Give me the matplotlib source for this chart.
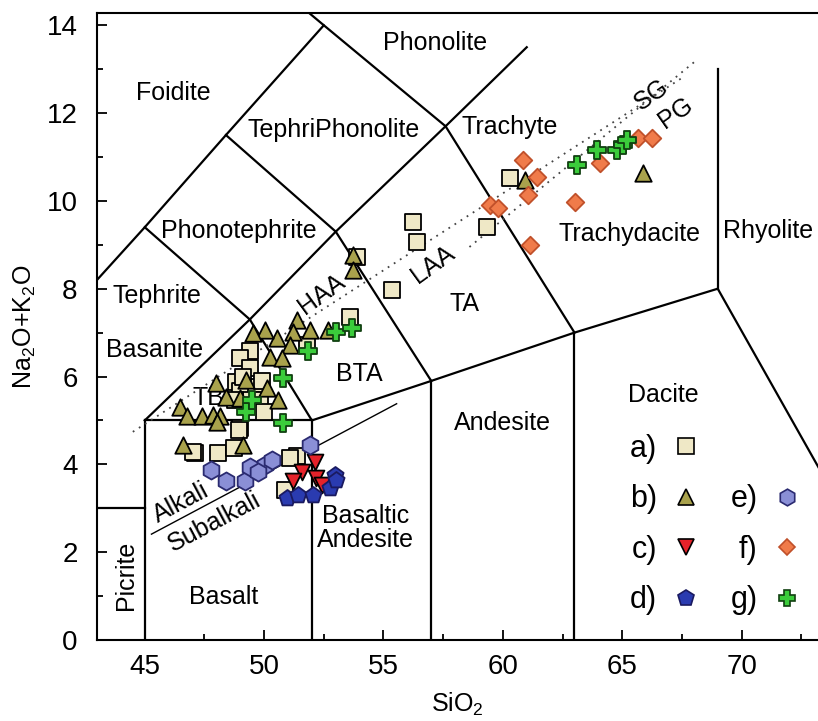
import matplotlib
matplotlib.use('Agg')
import matplotlib.pyplot as plt
from matplotlib.lines import Line2D

plt.rcParams['font.family'] = ['Liberation Sans', 'DejaVu Sans']
plt.rcParams['mathtext.default'] = 'regular'

# TAS field boundaries (SiO2, Na2O+K2O)
tas_lines = [
    [(41, 3), (45, 3)],
    [(45, 0), (45, 5)],
    [(45, 5), (52, 5)],
    [(52, 0), (52, 5)],
    [(52, 5), (57, 5.9), (63, 7), (69, 8)],
    [(57, 0), (57, 5.9)],
    [(63, 0), (63, 7)],
    [(69, 8), (69, 13)],
    [(69, 8), (77.3, 0)],
    [(45, 5), (49.4, 7.3), (53, 9.3), (57.6, 11.7), (61, 13.5)],
    [(52, 5), (49.4, 7.3)],
    [(57, 5.9), (53, 9.3)],
    [(63, 7), (57.6, 11.7)],
    [(41, 7), (45, 9.4), (48.4, 11.5), (52.5, 14), (50.3, 15)],
    [(45, 9.4), (49.4, 7.3)],
    [(48.4, 11.5), (53, 9.3)],
    [(52.5, 14), (57.6, 11.7)],
]
alkali_line = [(45.28, 2.41), (55.55, 5.38)]
haa_laa_line = [(44.5, 4.74), (67.5, 12.8)]
sg_pg_line = [(58.6, 8.95), (68.1, 13.2)]

# samples
a_x = [56.25, 56.39, 55.34, 59.32, 60.30, 53.59, 53.87, 51.78, 49.40, 48.98, 49.40, 48.84,
       49.68, 48.98, 49.47, 49.82, 48.77, 48.98, 47.10, 48.07, 51.36, 51.08, 50.87, 49.1,
       50.0, 49.9, 47.04, 48.72, 48.93]
a_y = [9.53, 9.07, 7.97, 9.41, 10.52, 7.36, 8.73, 6.72, 6.57, 6.42, 6.19, 5.88,
       5.77, 5.66, 5.47, 5.47, 5.47, 4.82, 4.25, 4.25, 4.18, 4.14, 3.42, 6.0,
       5.2, 5.9, 4.29, 4.37, 4.78]
b_x = [53.73, 53.73, 51.36, 51.92, 51.22, 50.52, 52.68, 50.03, 51.08, 50.24, 50.73, 49.54,
       49.26, 48.0, 50.10, 48.42, 48.98, 50.59, 46.47, 46.75, 47.38, 47.86, 48.14, 46.61,
       49.12, 48.02, 60.93, 65.88]
b_y = [8.77, 8.43, 7.29, 7.06, 7.02, 6.87, 7.06, 7.06, 6.72, 6.45, 6.42, 6.99,
       5.92, 5.85, 5.73, 5.54, 5.51, 5.47, 5.31, 5.09, 5.09, 5.13, 5.09, 4.44,
       4.44, 4.97, 10.48, 10.63]
c_x = [52.12, 51.57, 52.19, 51.22, 52.41]
c_y = [4.06, 3.83, 3.68, 3.61, 3.53]
d_x = [50.94, 51.43, 52.05, 52.75, 52.96, 53.03]
d_y = [3.23, 3.30, 3.30, 3.46, 3.76, 3.64]
e_x = [47.79, 48.42, 49.19, 49.40, 50.03, 50.31, 49.75, 51.92]
e_y = [3.87, 3.61, 3.61, 3.95, 3.99, 4.10, 3.83, 4.44]
f_x = [60.86, 61.42, 61.06, 59.46, 59.80, 61.14, 63.02, 64.07, 65.67, 66.23]
f_y = [10.93, 10.55, 10.14, 9.91, 9.83, 9.00, 9.98, 10.86, 11.43, 11.43]
g_x = [63.09, 63.93, 64.77, 65.05, 65.19, 53.03, 53.66, 51.84, 50.80, 49.26, 50.80, 49.50]
g_y = [10.82, 11.16, 11.16, 11.28, 11.39, 7.02, 7.10, 6.57, 5.96, 5.20, 4.94, 5.47]

# label, x, y, marker, face, edge, scatter size, legend marker size
series = [
    ('a)', a_x, a_y, 's', '#efe8c6', 'k', 130, 12),
    ('b)', b_x, b_y, '^', '#a9a24c', 'k', 140, 12),
    ('c)', c_x, c_y, 'v', '#e5222a', 'k', 130, 12),
    ('d)', d_x, d_y, 'p', '#2a3bb0', '#1a1a60', 150, 12),
    ('e)', e_x, e_y, 'h', '#8a8fd6', '#2a2a70', 170, 12),
    ('f)', f_x, f_y, 'D', '#f07b4a', '#c0502a', 80, 8.5),
    ('g)', g_x, g_y, 'P', '#3bcc3b', '#104010', 150, 12),
]

# text, x, y, rotation, horizontal alignment
field_labels = [
    ('Foidite', 46.2, 12.45, 0, 'center'), ('Phonolite', 55.0, 13.6, 0, 'left'),
    ('TephriPhonolite', 52.9, 11.62, 0, 'center'), ('Trachyte', 60.3, 11.69, 0, 'center'),
    ('Phonotephrite', 48.95, 9.32, 0, 'center'), ('Tephrite', 45.5, 7.84, 0, 'center'),
    ('Basanite', 45.4, 6.6, 0, 'center'), ('TA', 58.4, 7.65, 0, 'center'),
    ('Trachydacite', 65.3, 9.25, 0, 'center'), ('Rhyolite', 71.1, 9.32, 0, 'center'),
    ('BTA', 54.0, 6.05, 0, 'center'), ('Andesite', 60.0, 4.94, 0, 'center'),
    ('Dacite', 66.7, 5.58, 0, 'center'), ('Basaltic\nAndesite', 54.25, 2.55, 0, 'center'),
    ('Basalt', 48.3, 0.98, 0, 'center'), ('Picrite', 44.2, 1.48, 90, 'center'),
    ('HAA', 52.4, 7.88, 36, 'center'), ('LAA', 57.08, 8.55, 36, 'center'),
    ('Alkali', 46.5, 3.12, 28, 'center'), ('Subalkali', 47.9, 2.68, 28, 'center'),
    ('SG', 66.25, 12.41, 35, 'center'), ('PG', 67.25, 12.0, 35, 'center'),
]

fig = plt.figure(figsize=(8.18, 7.21), dpi=100)
ax = fig.add_axes([0.1186, 0.1124, 0.8814, 0.8696])

for seg in tas_lines:
    xs, ys = zip(*seg)
    ax.plot(xs, ys, color='k', lw=1.6, zorder=2)
xs, ys = zip(*alkali_line)
ax.plot(xs, ys, color='k', lw=1.0, zorder=2)
for seg in (haa_laa_line, sg_pg_line):
    xs, ys = zip(*seg)
    ax.plot(xs, ys, color='#444444', lw=1.3, ls=(0, (1, 3)), zorder=2)

for txt, x, y, rot, ha in field_labels:
    ax.text(x, y, txt, ha=ha, va='center', rotation=rot, fontsize=18, zorder=1,
            linespacing=1.05)
ax.text(47.67, 5.51, 'TB', ha='center', va='center', fontsize=18, zorder=1)

handles = []
for lab, x, y, m, fc, ec, s, ms in series:
    ax.scatter(x, y, marker=m, s=s, facecolor=fc, edgecolor=ec, linewidth=1.3, zorder=3)
    handles.append(Line2D([], [], ls='none', marker=m, markersize=ms, markerfacecolor=fc,
                          markeredgecolor=ec, markeredgewidth=1.2, label=lab))

blank = Line2D([], [], ls='none', label=' ')
leg_handles = handles[:4] + [blank] + handles[4:]
ax.legend(handles=leg_handles, ncol=2, markerfirst=False, frameon=False, fontsize=22,
          handlelength=1.0, handletextpad=0.45, columnspacing=0.95, labelspacing=0.67,
          borderpad=0, borderaxespad=0, loc='upper left',
          bbox_to_anchor=(630 / 818, 1 - 434 / 721), bbox_transform=fig.transFigure)

ax.set_xlim(43, 73.2)
ax.set_ylim(0, 14.28)
ax.set_xticks([45, 50, 55, 60, 65, 70])
ax.set_xticks([47.5, 52.5, 57.5, 62.5, 67.5, 72.5], minor=True)
ax.set_yticks(range(0, 15, 2))
ax.set_yticks(range(1, 15, 2), minor=True)
ax.tick_params(which='major', direction='in', length=7, width=1.3, labelsize=20)
ax.tick_params(axis='x', which='major', pad=10)
ax.tick_params(axis='y', which='major', pad=14)
ax.tick_params(which='minor', direction='in', length=4, width=1.3)
for sp in ['left', 'bottom', 'top']:
    ax.spines[sp].set_linewidth(1.5)
ax.spines['right'].set_visible(False)
ax.set_xlabel(r'SiO$_2$', fontsize=18, labelpad=8)
ax.set_ylabel(r'Na$_2$O+K$_2$O', fontsize=18, labelpad=6)

fig.savefig('out.png', dpi=100)
